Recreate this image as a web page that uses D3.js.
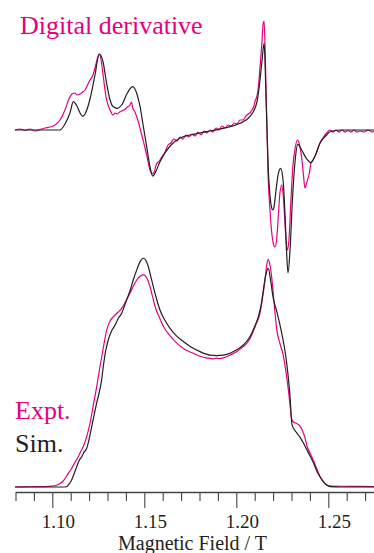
<!DOCTYPE html>
<html>
<head>
<meta charset="utf-8">
<script src="https://cdn.jsdelivr.net/npm/d3@7"></script>
<style>
  body { margin: 0; background: #fff; }
  svg { display: block; }
</style>
</head>
<body>
<svg id="draw-here"></svg>
<script>
// field positions (T) and intensities (arb. units)
let simDerivField = [1.0797, 1.1042, 1.1069, 1.1096, 1.1114, 1.1134, 1.1151, 1.1165, 1.1178, 1.1205,
  1.1232, 1.1255, 1.1276, 1.1292, 1.1314, 1.1330, 1.1353, 1.1377, 1.1408, 1.1437,
  1.1460, 1.1477, 1.1495, 1.1513, 1.1531, 1.1546, 1.1564, 1.1585, 1.1640, 1.1694,
  1.1748, 1.1839, 1.1928, 1.2020, 1.2074, 1.2102, 1.2112, 1.2129, 1.2140, 1.2151,
  1.2156, 1.2161, 1.2167, 1.2174, 1.2183, 1.2191, 1.2198, 1.2205, 1.2216, 1.2227,
  1.2241, 1.2254, 1.2265, 1.2274, 1.2281, 1.2292, 1.2305, 1.2320, 1.2334, 1.2355,
  1.2383, 1.2406, 1.2430, 1.2455, 1.2491, 1.2509, 1.2564, 1.2748];
let simDeriv = [0, 0, 0.06, 0.17, 0.283, 0.24, 0.17, 0.137, 0.16, 0.31,
  0.55, 0.76, 0.68, 0.50, 0.30, 0.235, 0.217, 0.25, 0.37, 0.433,
  0.36, 0.233, 0.033, -0.167, -0.367, -0.46, -0.41, -0.317, -0.16, -0.08,
  -0.05, -0.017, 0.017, 0.067, 0.133, 0.22, 0.28, 0.50, 0.70, 0.867,
  0.70, 0.35, 0.0, -0.40, -0.65, -0.77, -0.80, -0.77, -0.60, -0.45,
  -0.383, -0.50, -0.85, -1.25, -1.43, -1.20, -0.70, -0.30, -0.143, -0.20,
  -0.29, -0.327, -0.25, -0.13, -0.05, -0.017, 0, 0];

let exptDerivField = [1.0797, 1.0824, 1.0852, 1.0879, 1.0906, 1.0933, 1.0960, 1.0988, 1.1015, 1.1042,
  1.1069, 1.1088, 1.1107, 1.1123, 1.1134, 1.1151, 1.1165, 1.1178, 1.1194, 1.1205,
  1.1221, 1.1232, 1.1243, 1.1255, 1.1265, 1.1276, 1.1292, 1.1303, 1.1314, 1.1330,
  1.1342, 1.1353, 1.1366, 1.1377, 1.1390, 1.1408, 1.1422, 1.1430, 1.1437, 1.1449,
  1.1468, 1.1486, 1.1500, 1.1513, 1.1531, 1.1541, 1.1554, 1.1564, 1.1585, 1.1599,
  1.1613, 1.1629, 1.1645, 1.1661, 1.1678, 1.1694, 1.1710, 1.1727, 1.1743, 1.1759,
  1.1776, 1.1792, 1.1808, 1.1825, 1.1841, 1.1857, 1.1873, 1.1890, 1.1906, 1.1922,
  1.1939, 1.1955, 1.1971, 1.1988, 1.2004, 1.2020, 1.2036, 1.2053, 1.2064, 1.2074,
  1.2085, 1.2096, 1.2102, 1.2111, 1.2118, 1.2129, 1.2140, 1.2145, 1.2151, 1.2156,
  1.2161, 1.2167, 1.2172, 1.2183, 1.2194, 1.2202, 1.2210, 1.2219, 1.2228, 1.2237,
  1.2247, 1.2255, 1.2265, 1.2273, 1.2278, 1.2286, 1.2297, 1.2308, 1.2320, 1.2332,
  1.2344, 1.2355, 1.2365, 1.2373, 1.2384, 1.2397, 1.2406, 1.2417, 1.2433, 1.2455,
  1.2471, 1.2491, 1.2509, 1.2525, 1.2542, 1.2558, 1.2574, 1.2591, 1.2607, 1.2623,
  1.2640, 1.2656, 1.2672, 1.2694, 1.2716, 1.2738, 1.2748];
let exptDeriv = [0, 0.01, -0.005, 0.01, -0.01, 0.005, 0.02, 0.03, 0.05, 0.10,
  0.20, 0.30, 0.36, 0.37, 0.35, 0.36, 0.38, 0.40, 0.46, 0.50,
  0.55, 0.62, 0.70, 0.76, 0.70, 0.55, 0.33, 0.25, 0.20, 0.15,
  0.17, 0.16, 0.18, 0.19, 0.20, 0.23, 0.25, 0.28, 0.22, 0.18,
  0.08, -0.05, -0.15, -0.25, -0.40, -0.44, -0.42, -0.35, -0.30, -0.26,
  -0.22, -0.15, -0.13, -0.09, -0.11, -0.07, -0.09, -0.05, -0.07, -0.04,
  -0.06, -0.02, -0.05, -0.01, -0.03, 0.0, -0.02, 0.02, 0.0, 0.04,
  0.02, 0.05, 0.04, 0.07, 0.06, 0.10, 0.10, 0.14, 0.16, 0.17,
  0.20, 0.24, 0.29, 0.33, 0.40, 0.63, 0.90, 1.05, 1.09, 0.85,
  0.45, 0.0, -0.40, -0.80, -1.05, -1.14, -1.17, -1.10, -0.87, -0.63,
  -0.55, -0.65, -0.95, -1.15, -1.20, -1.10, -0.70, -0.35, -0.18, -0.10,
  -0.15, -0.27, -0.45, -0.58, -0.52, -0.43, -0.33, -0.30, -0.24, -0.13,
  -0.08, -0.03, 0.0, -0.02, 0.0, -0.02, 0.0, -0.02, -0.005, -0.02,
  0.0, -0.02, -0.01, -0.02, 0.0, -0.02, -0.01];

let simAbsField = [1.0797, 1.1058, 1.1078, 1.1091, 1.1105, 1.1118, 1.1133, 1.1145, 1.1160, 1.1172,
  1.1187, 1.1199, 1.1214, 1.1227, 1.1241, 1.1268, 1.1277, 1.1289, 1.1304, 1.1322,
  1.1341, 1.1357, 1.1377, 1.1390, 1.1404, 1.1422, 1.1440, 1.1459, 1.1477, 1.1495,
  1.1510, 1.1522, 1.1535, 1.1549, 1.1566, 1.1585, 1.1613, 1.1640, 1.1672, 1.1712,
  1.1754, 1.1803, 1.1857, 1.1893, 1.1928, 1.1966, 1.2004, 1.2038, 1.2064, 1.2084,
  1.2102, 1.2120, 1.2135, 1.2147, 1.2159, 1.2174, 1.2186, 1.2201, 1.2222, 1.2247,
  1.2262, 1.2274, 1.2284, 1.2292, 1.2297, 1.2303, 1.2325, 1.2346, 1.2373, 1.2401,
  1.2418, 1.2436, 1.2455, 1.2474, 1.2491, 1.2509, 1.2564, 1.2748];
let simAbs = [0, 0, 0.001, 0.013, 0.031, 0.057, 0.089, 0.114, 0.132, 0.151,
  0.169, 0.205, 0.263, 0.314, 0.366, 0.467, 0.525, 0.590, 0.642, 0.681,
  0.707, 0.734, 0.759, 0.786, 0.817, 0.856, 0.904, 0.948, 0.984, 0.999,
  0.987, 0.962, 0.921, 0.875, 0.823, 0.773, 0.727, 0.693, 0.662, 0.635,
  0.611, 0.591, 0.576, 0.574, 0.576, 0.584, 0.600, 0.620, 0.644, 0.671,
  0.705, 0.744, 0.795, 0.860, 0.921, 0.955, 0.904, 0.824, 0.760, 0.671,
  0.607, 0.540, 0.467, 0.394, 0.328, 0.271, 0.240, 0.218, 0.179, 0.135,
  0.108, 0.072, 0.045, 0.022, 0.009, 0.002, 0, 0];

let exptAbsField = [1.0797, 1.0879, 1.0960, 1.0998, 1.1026, 1.1042, 1.1055, 1.1069, 1.1085, 1.1105,
  1.1123, 1.1141, 1.1156, 1.1168, 1.1186, 1.1205, 1.1223, 1.1240, 1.1259, 1.1277,
  1.1296, 1.1314, 1.1332, 1.1355, 1.1377, 1.1401, 1.1422, 1.1441, 1.1459, 1.1477,
  1.1495, 1.1510, 1.1522, 1.1540, 1.1559, 1.1581, 1.1605, 1.1636, 1.1677, 1.1721,
  1.1766, 1.1808, 1.1835, 1.1857, 1.1873, 1.1890, 1.1911, 1.1933, 1.1966, 1.2004,
  1.2038, 1.2064, 1.2084, 1.2107, 1.2129, 1.2143, 1.2156, 1.2166, 1.2174, 1.2183,
  1.2192, 1.2205, 1.2220, 1.2238, 1.2255, 1.2270, 1.2283, 1.2292, 1.2301, 1.2311,
  1.2328, 1.2346, 1.2360, 1.2373, 1.2384, 1.2401, 1.2418, 1.2436, 1.2455, 1.2474,
  1.2491, 1.2520, 1.2618, 1.2748];
let exptAbs = [0, 0.001, 0.002, 0.004, 0.009, 0.015, 0.023, 0.037, 0.057, 0.081,
  0.107, 0.132, 0.157, 0.176, 0.218, 0.278, 0.358, 0.432, 0.525, 0.607,
  0.686, 0.725, 0.744, 0.762, 0.780, 0.814, 0.846, 0.878, 0.904, 0.920,
  0.926, 0.917, 0.897, 0.847, 0.787, 0.742, 0.700, 0.664, 0.628, 0.600,
  0.584, 0.570, 0.564, 0.562, 0.559, 0.563, 0.561, 0.565, 0.576, 0.592,
  0.613, 0.635, 0.664, 0.710, 0.759, 0.828, 0.904, 0.972, 0.994, 0.969,
  0.918, 0.808, 0.686, 0.624, 0.576, 0.502, 0.424, 0.358, 0.297, 0.284,
  0.277, 0.266, 0.245, 0.216, 0.179, 0.148, 0.118, 0.083, 0.045, 0.022,
  0.009, 0.004, 0.003, 0.002];

let majorTicks = [1.10, 1.15, 1.20, 1.25];
let minorTicks = [1.08, 1.09, 1.11, 1.12, 1.13, 1.14, 1.16, 1.17, 1.18, 1.19, 1.21, 1.22, 1.23, 1.24, 1.26, 1.27];

const W = 374, H = 553;
const pink = "#e6007e", dark = "#231f20";
const serif = '"Liberation Serif", Tinos, "Times New Roman", Times, "Nimbus Roman", "Nimbus Roman No9 L", "Noto Serif", "DejaVu Serif", FreeSerif, "Noto Serif CJK SC", "Noto Serif CJK JP", serif';

let svg = d3.select('#draw-here')
  .attr('width', W)
  .attr('height', H);

let x = d3.scaleLinear().domain([1.08, 1.275]).range([15.5, 374.3]);
let yDeriv = d3.scaleLinear().domain([-1, 1]).range([230, 30]);
let yAbs = d3.scaleLinear().domain([0, 1]).range([487, 258]);

function zip(xs, ys) { return xs.map((v, i) => [v, ys[i]]); }

let derivLine = d3.line()
  .x(d => x(d[0])).y(d => yDeriv(d[1]))
  .curve(d3.curveMonotoneX);
let absLine = d3.line()
  .x(d => x(d[0])).y(d => yAbs(d[1]))
  .curve(d3.curveMonotoneX);

// experiment first, simulation on top
svg.append('path').attr('d', derivLine(zip(exptDerivField, exptDeriv)))
  .attr('fill', 'none').attr('stroke', pink).attr('stroke-width', 1.2);
svg.append('path').attr('d', derivLine(zip(simDerivField, simDeriv)))
  .attr('fill', 'none').attr('stroke', dark).attr('stroke-width', 1.2);

svg.append('path').attr('d', absLine(zip(exptAbsField, exptAbs)))
  .attr('fill', 'none').attr('stroke', pink).attr('stroke-width', 1.2);
svg.append('path').attr('d', absLine(zip(simAbsField, simAbs)))
  .attr('fill', 'none').attr('stroke', dark).attr('stroke-width', 1.2);

// x axis: minor ticks, then major ticks with labels
let axisY = 492;
svg.append('g')
  .attr('transform', `translate(0,${axisY})`)
  .call(d3.axisBottom(x).tickValues(minorTicks).tickSize(9).tickSizeOuter(0).tickFormat(''))
  .call(g => g.selectAll('line').attr('stroke', '#444').attr('stroke-width', 1.1))
  .call(g => g.select('.domain').attr('stroke', '#444').attr('stroke-width', 1.3));

svg.append('g')
  .attr('transform', `translate(0,${axisY})`)
  .call(d3.axisBottom(x).tickValues(majorTicks).tickSize(16).tickSizeOuter(0).tickFormat(d3.format('.2f')))
  .attr('font-family', serif)
  .attr('font-size', 19)
  .call(g => g.select('.domain').remove())
  .call(g => g.selectAll('line').attr('stroke', '#444').attr('stroke-width', 1.1))
  .call(g => g.selectAll('text')
    .attr('fill', dark)
    .attr('dy', null)
    .attr('y', 36)
    .attr('dx', 5.5));

svg.append('text')
  .attr('x', 192.5).attr('y', 550)
  .attr('text-anchor', 'middle')
  .attr('font-family', serif).attr('font-size', 20)
  .attr('fill', dark)
  .text('Magnetic Field / T');

// labels
svg.append('text').attr('x', 20).attr('y', 34)
  .attr('font-family', serif).attr('font-size', 26)
  .attr('fill', pink)
  .text('Digital derivative');
svg.append('text').attr('x', 15).attr('y', 419)
  .attr('font-family', serif).attr('font-size', 26)
  .attr('fill', pink)
  .text('Expt.');
svg.append('text').attr('x', 15).attr('y', 451.5)
  .attr('font-family', serif).attr('font-size', 26)
  .attr('fill', dark)
  .text('Sim.');
</script>
</body>
</html>
